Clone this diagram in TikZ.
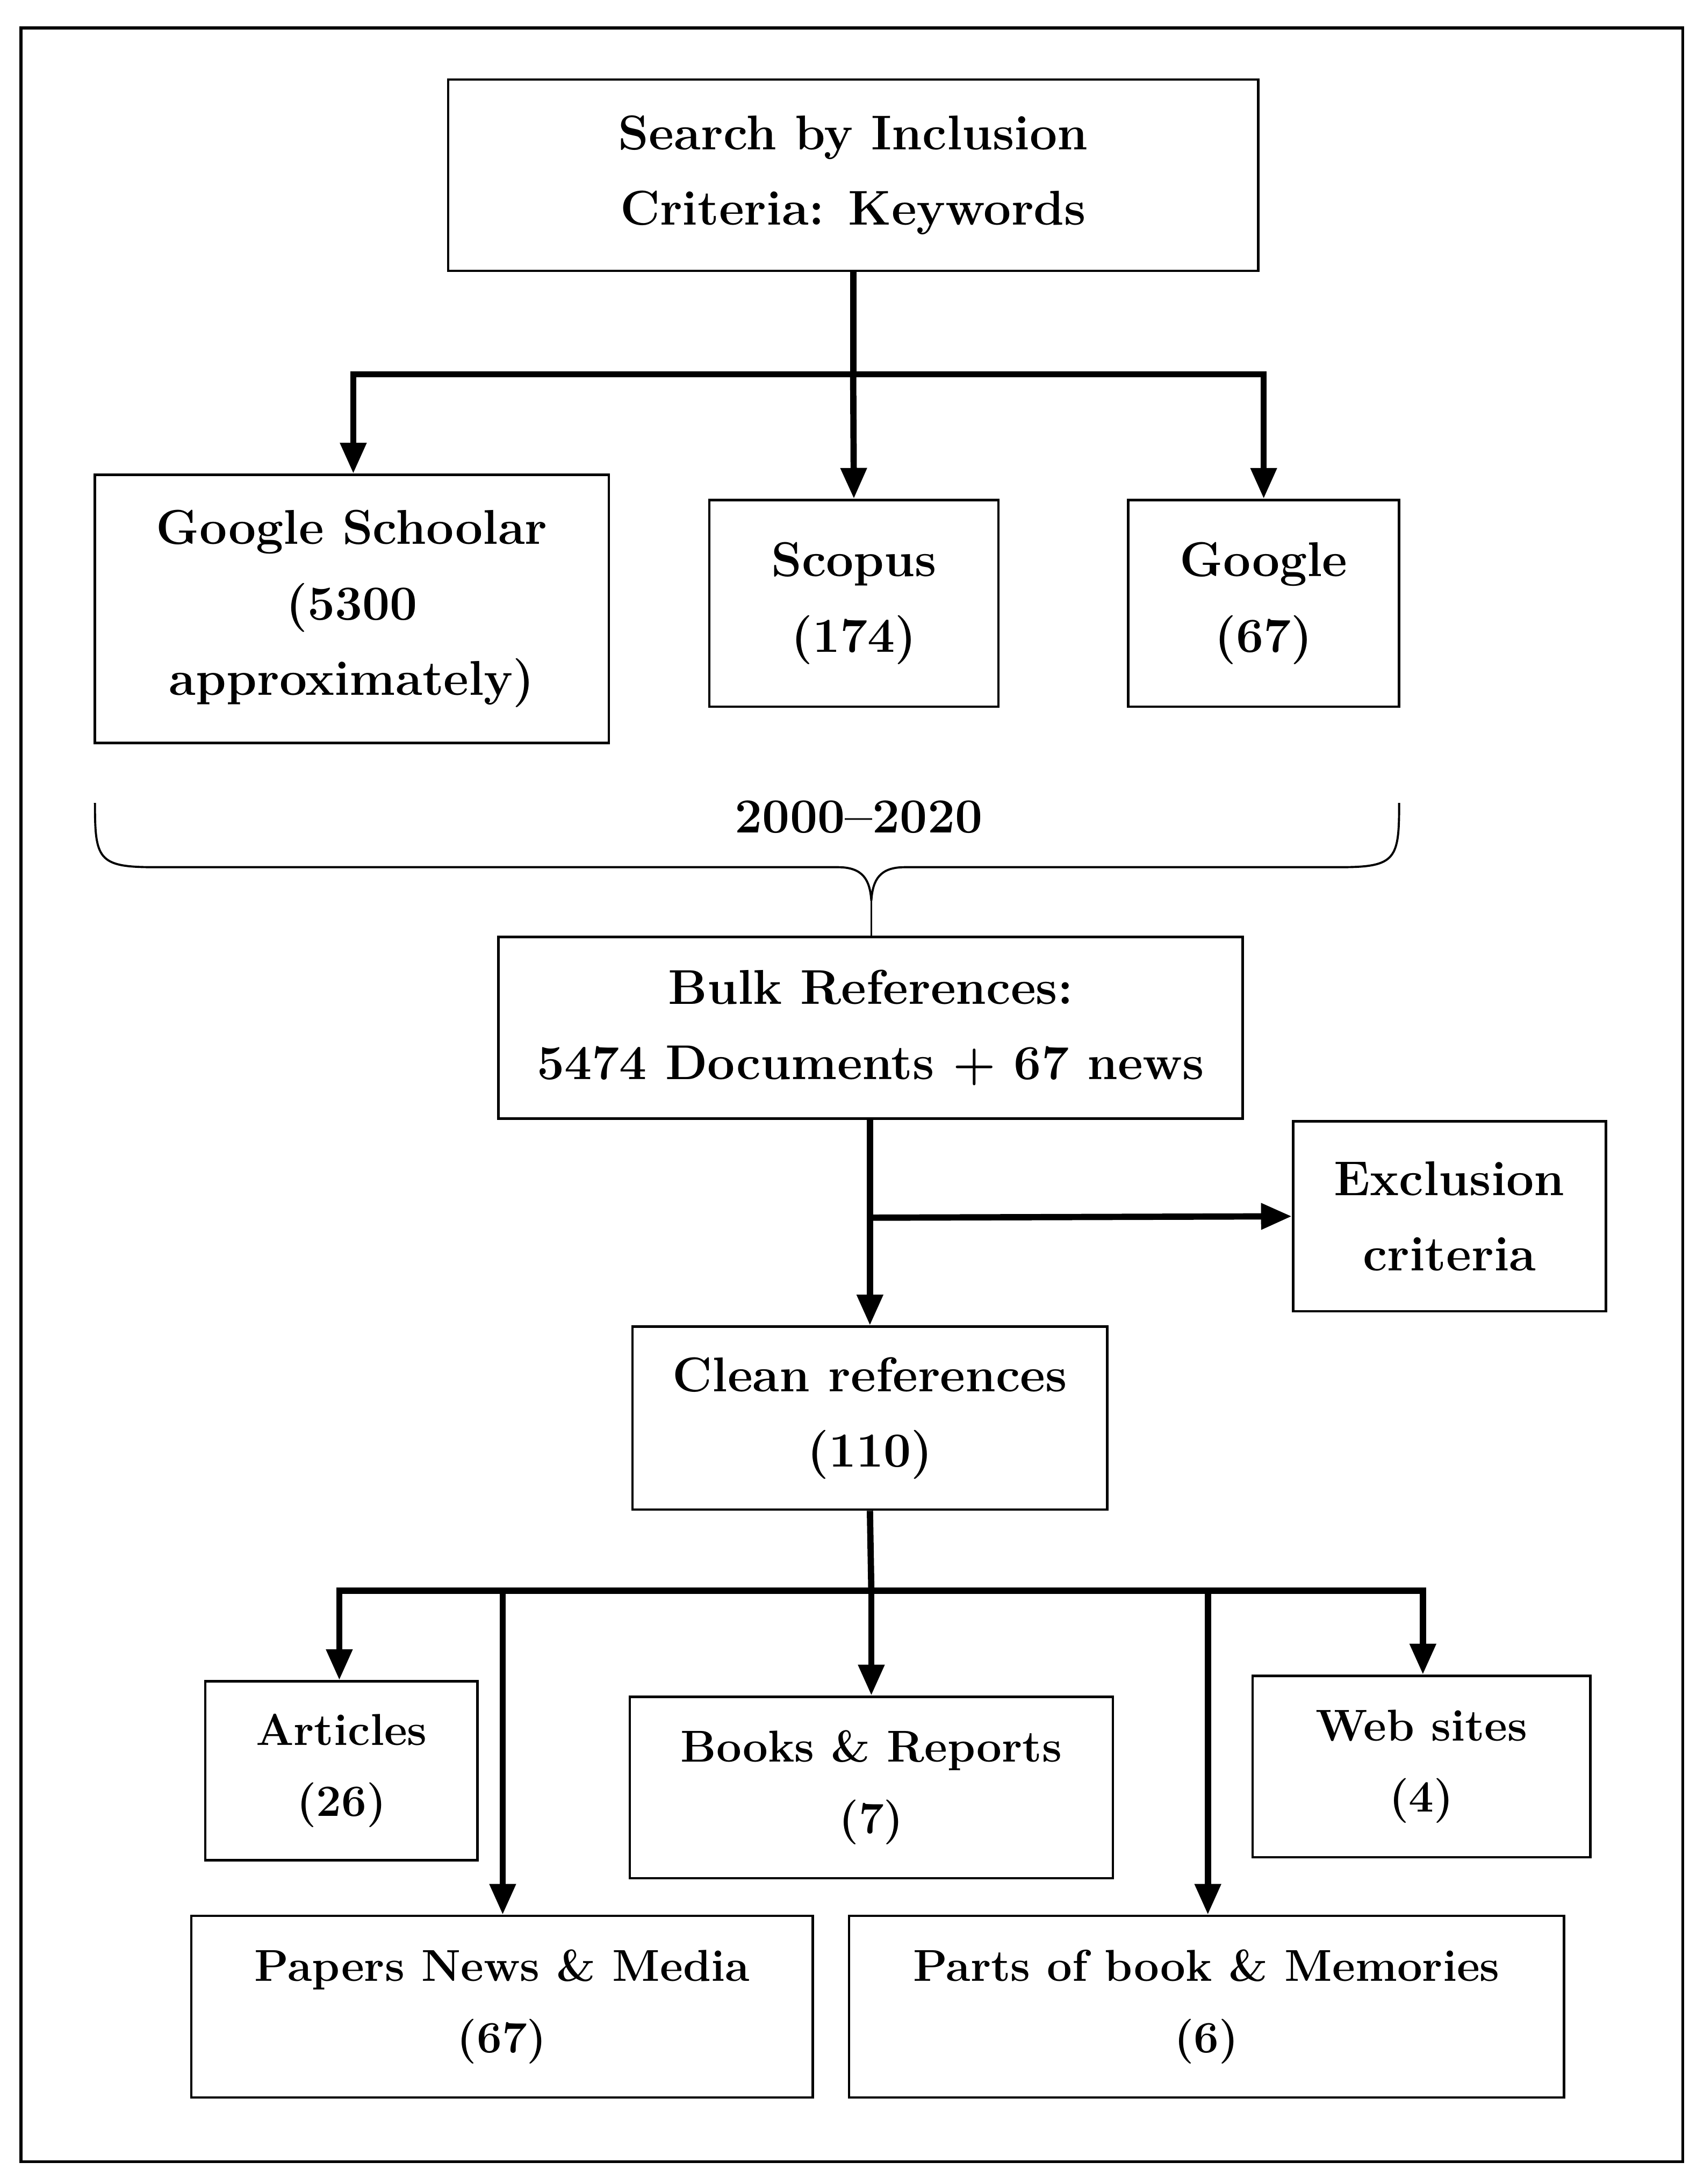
\documentclass[tikz,border=0pt]{standalone}
\usetikzlibrary{arrows.meta}
\begin{document}
\begin{tikzpicture}[x=1pt,y=-1pt,
  bx/.style={draw,line width=1.8pt,align=center,inner sep=0pt,font=\fontsize{35}{54}\selectfont\bfseries},
  sx/.style={bx,font=\fontsize{32}{51}\selectfont\bfseries},
  ar/.style={line width=4.5pt,-{Triangle[length=22pt,width=18pt]}},
  ln/.style={line width=4.5pt}]
\useasboundingbox (0,0) rectangle (1220,1564);
\draw[line width=2pt] (15,20) rectangle (1205,1548);
\node[bx,minimum width=580,minimum height=137] (s) at (611,125.5) {Search by Inclusion\\Criteria: Keywords};
\node[bx,minimum width=368,minimum height=192] (gs) at (252,436) {Google Schoolar\\(5300\\approximately)};
\node[bx,minimum width=207,minimum height=148] (sc) at (611.5,432) {Scopus\\(174)};
\node[bx,minimum width=194,minimum height=148] (go) at (905,432) {Google\\(67)};
\node[bx,minimum width=533,minimum height=130] (bu) at (623.5,736) {Bulk References:\\5474 Documents + 67 news};
\node[bx,minimum width=224,minimum height=136] (ex) at (1038,871) {Exclusion\\criteria};
\node[bx,minimum width=340,minimum height=131] (cl) at (623,1015.5) {Clean references\\(110)};
\node[sx,minimum width=195,minimum height=128] (a) at (244.5,1268) {Articles\\(26)};
\node[sx,minimum width=346,minimum height=130] (b) at (624,1280) {Books \& Reports\\(7)};
\node[sx,minimum width=242,minimum height=130] (w) at (1018,1265) {Web sites\\(4)};
\node[sx,minimum width=445,minimum height=130] (p) at (359.5,1437) {Papers News \& Media\\(67)};
\node[sx,minimum width=512,minimum height=130] (q) at (864,1437) {Parts of book \& Memories\\(6)};
% top tree
\coordinate (j1) at (611,268);
\draw[ln] (s.south) -- (j1);
\draw[ln] (253,268) -- (905,268);
\draw[ar] (253,266) -- (gs.north -| 253,0);
\draw[ar] (j1) -- (sc.north);
\draw[ar] (905,266) -- (go.north);
% brace
\node[font=\fontsize{35}{40}\selectfont\bfseries] (yr) at (615,585) {2000--2020};
\draw[line width=1.5pt] (68,575) .. controls (68,615) and (70,621) .. (110,621) -- (600,621) .. controls (618,621) and (623,630) .. (624,645) .. controls (625,630) and (630,621) .. (648,621) -- (960,621) .. controls (1000,621) and (1002,615) .. (1002,575);
\coordinate (bt) at (624,645);
\draw[line width=1.5pt] (bt) -- (bu.north -| bt);
% bulk
\coordinate (j2) at (624,872);
\draw[ar] (bu.south -| cl.north) -- (cl.north);
\draw[ar] (j2) -- (ex.west);
% bottom tree
\coordinate (j3) at (624,1139);
\draw[ln] (cl.south) -- (j3);
\draw[ln] (243,1139) -- (1019,1139);
\draw[ar] (243,1137) -- (a.north -| 243,0);
\draw[ar] (360,1137) -- (p.north -| 360,0);
\draw[ar] (j3) -- (b.north);
\draw[ar] (865,1137) -- (q.north -| 865,0);
\draw[ar] (1019,1137) -- (w.north -| 1019,0);
\end{tikzpicture}
\end{document}
